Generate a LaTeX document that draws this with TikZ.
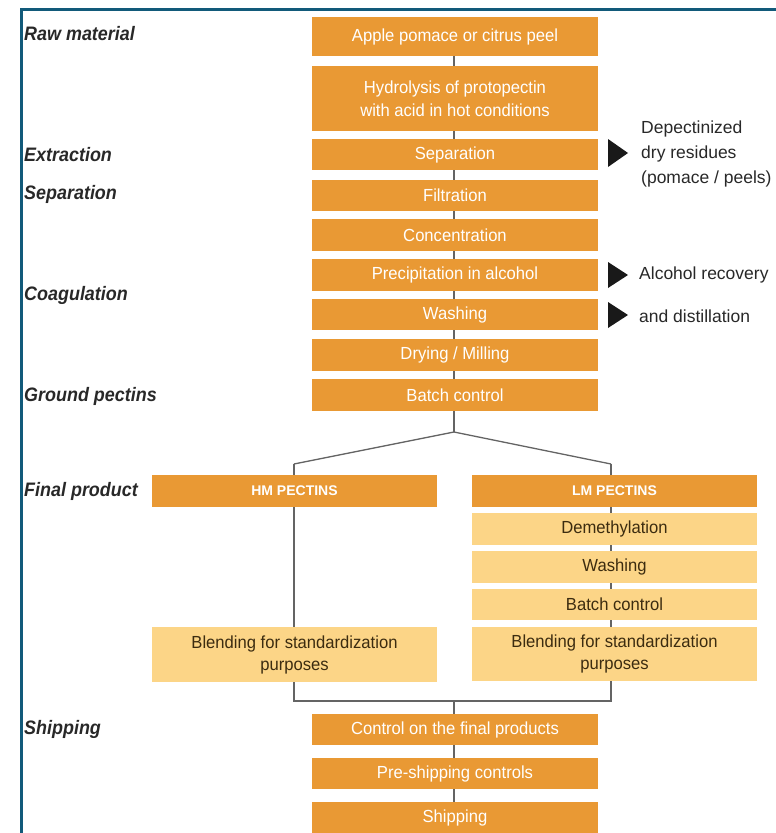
\documentclass[tikz,border=0pt]{standalone}
\usepackage{fontspec}
\setmainfont{Liberation Sans}
\newfontfamily\boxfont{Liberation Sans}[FakeStretch=0.95]
\newfontfamily\labfont{Liberation Sans}[FakeStretch=0.92]
\usetikzlibrary{backgrounds}
\definecolor{orangeD}{RGB}{233,153,52}
\definecolor{orangeL}{RGB}{252,213,135}
\definecolor{framec}{RGB}{18,90,122}
\definecolor{linec}{RGB}{100,100,100}
\definecolor{brownT}{RGB}{60,44,16}
\definecolor{labc}{RGB}{40,40,40}
\tikzset{
  obox/.style={fill=orangeD, text=white, inner sep=0pt, align=center,
    font=\boxfont\fontsize{17.5}{23}\selectfont},
  mainbox/.style={obox, minimum width=286pt},
  sidebox/.style={obox, minimum width=285pt},
  lbox/.style={fill=orangeL, text=brownT, inner sep=0pt, align=center,
    minimum width=285pt, font=\boxfont\fontsize{17.5}{22}\selectfont},
  capbox/.style={sidebox, minimum height=32pt, font=\bfseries\fontsize{14}{16}\selectfont},
  stage/.style={anchor=west, inner sep=0pt, text=labc,
    font=\labfont\bfseries\itshape\fontsize{19.5}{22}\selectfont},
  note/.style={anchor=west, inner sep=0pt, text=labc, align=left,
    font=\fontsize{17.5}{25}\selectfont},
  conn/.style={draw=linec, line width=1.3pt},
  marker/.style={fill=black!90}
}
\begin{document}
\begin{tikzpicture}[x=1pt,y=-1pt]
\useasboundingbox (0,0) rectangle (776,833);
\draw[framec, line width=2.3pt] (21.5,840) -- (21.5,9.5) -- (780,9.5);

% main column
\node[mainbox, minimum height=39pt] (raw) at (455,36.5) {Apple pomace or citrus peel};
\node[mainbox, minimum height=65pt] (hyd) at (455,98.5) {Hydrolysis of protopectin\\with acid in hot conditions};
\node[mainbox, minimum height=31pt] (sep) at (455,154.5) {Separation};
\node[mainbox, minimum height=31pt] (fil) at (455,195) {Filtration};
\node[mainbox, minimum height=32pt] (conc) at (455,235) {Concentration};
\node[mainbox, minimum height=32pt] (prec) at (455,275) {Precipitation in alcohol};
\node[mainbox, minimum height=31pt] (wash) at (455,314.5) {Washing};
\node[mainbox, minimum height=32pt] (dry) at (455,355) {Drying / Milling};
\node[mainbox, minimum height=32pt] (batch) at (455,395) {Batch control};

% branches
\node[capbox] (hm) at (294.5,491) {HM PECTINS};
\node[capbox] (lm) at (614.5,491) {LM PECTINS};
\node[lbox, minimum height=32pt] (demeth) at (614.5,529) {Demethylation};
\node[lbox, minimum height=32pt] (lwash) at (614.5,567) {Washing};
\node[lbox, minimum height=31pt] (lbatch) at (614.5,604.5) {Batch control};
\node[lbox, minimum height=54pt] (blendR) at (614.5,654) {Blending for standardization\\purposes};
\node[lbox, minimum height=55pt] (blendL) at (294.5,654.5) {Blending for standardization\\purposes};

% bottom column
\node[mainbox, minimum height=31pt] (ctrl) at (455,729.5) {Control on the final products};
\node[mainbox, minimum height=31pt] (pre) at (455,773.5) {Pre-shipping controls};
\node[mainbox, minimum height=31pt] (ship) at (455,817.5) {Shipping};

% junctions
\coordinate (split) at (454,432);
\coordinate (hl) at (294,464);
\coordinate (hr) at (611,464);
\coordinate (bl) at (294,701);
\coordinate (br) at (611,701);
\coordinate (bm) at (454,701);

\begin{pgfonlayer}{background}
  \draw[conn] (raw.center -| split) -- (split);
  \draw[conn] (hl) -- (split) -- (hr);
  \draw[conn] (hl) -- (bl) -- (br) -- (hr);
  \draw[conn] (bm) -- (ship.center -| bm);
\end{pgfonlayer}

% stage labels
\node[stage] (l1) at (24,33.5) {Raw material};
\node[stage] (l2) at (24,154.5) {Extraction};
\node[stage] (l3) at (24,194) {Separation};
\node[stage] (l4) at (24,295) {Coagulation};
\node[stage] (l5) at (24,396) {Ground pectins};
\node[stage] (l6) at (24,491) {Final product};
\node[stage] (l7) at (24,729) {Shipping};

% side notes
\fill[marker] (608,139) -- (628,153) -- (608,167) -- cycle;
\fill[marker] (608,262) -- (628,275) -- (608,288) -- cycle;
\fill[marker] (608,302) -- (628,315) -- (608,328) -- cycle;
\node[note] (n1) at (641,154) {Depectinized\\dry residues\\(pomace / peels)};
\node[note] (n2) at (639,275) {Alcohol recovery};
\node[note] (n3) at (639,316) {and distillation};
\end{tikzpicture}
\end{document}
